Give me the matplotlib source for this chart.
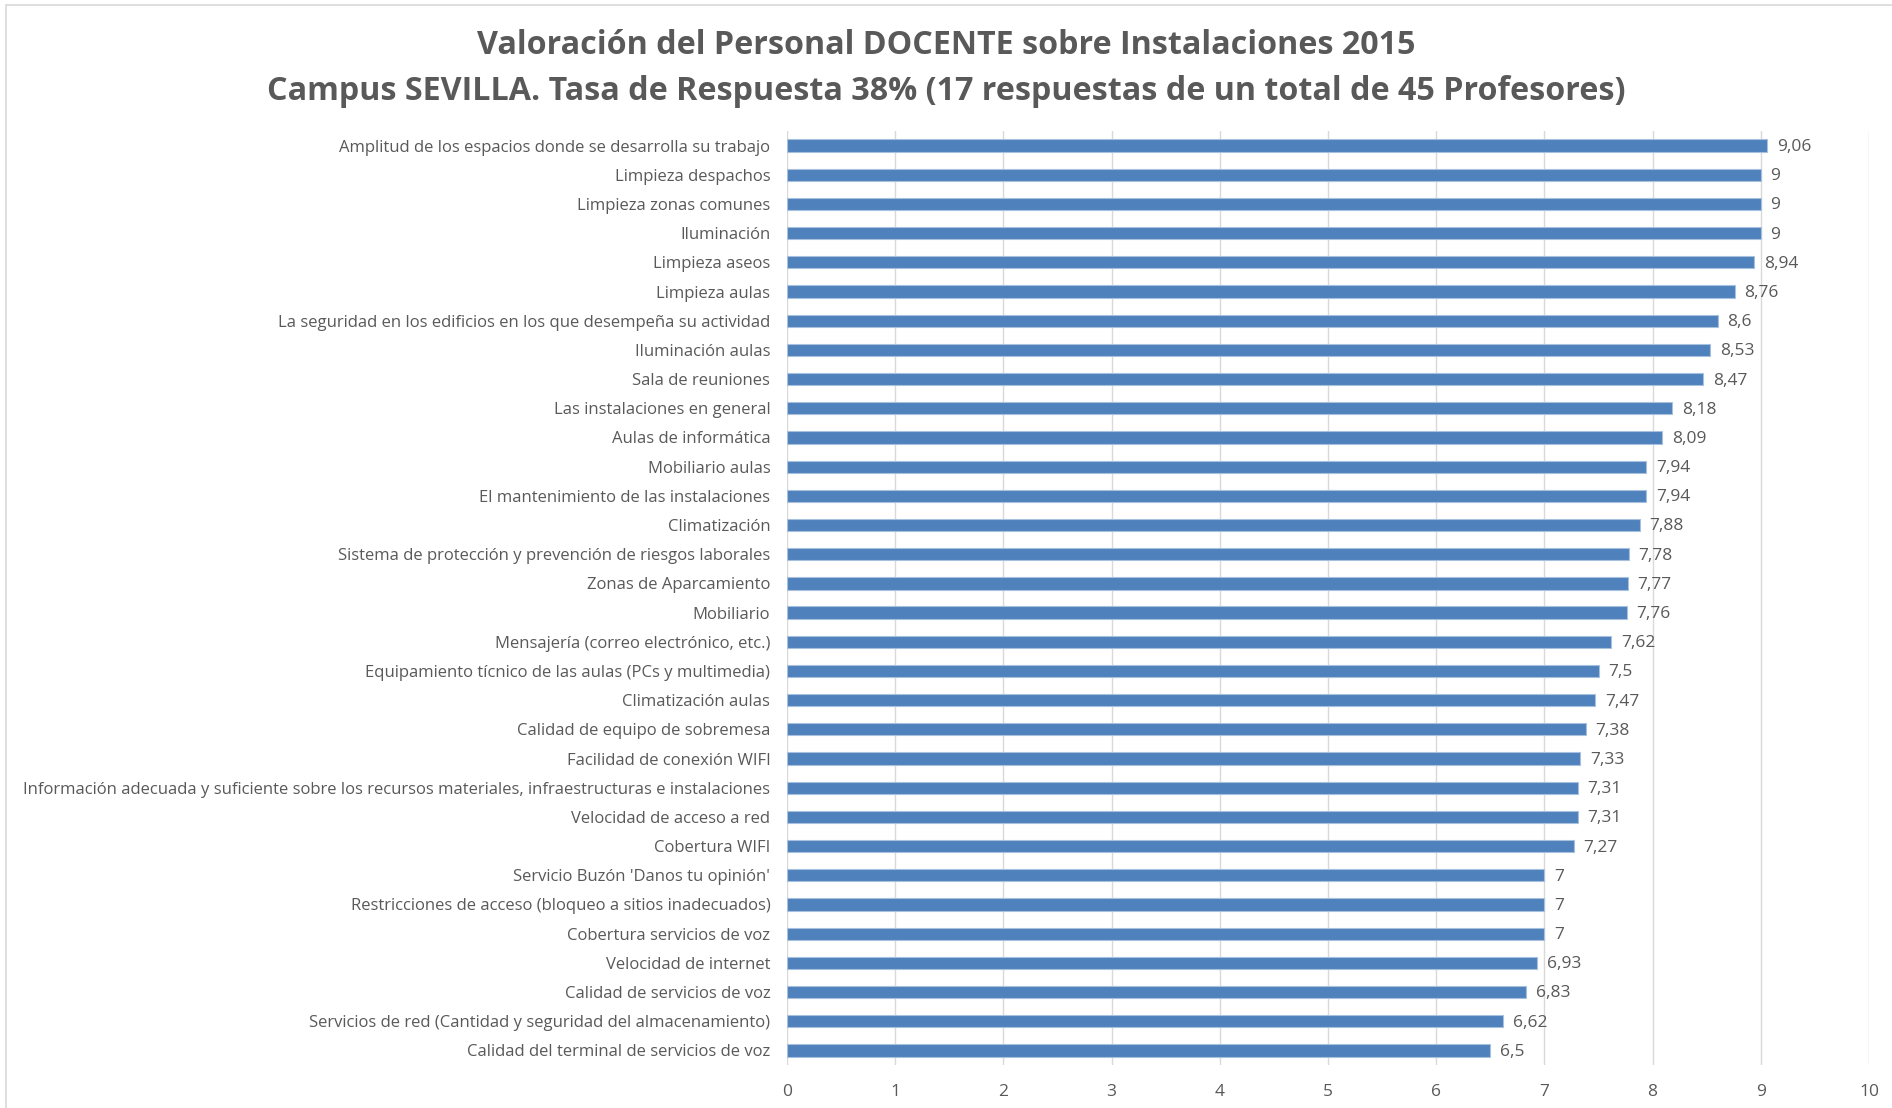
import numpy as np
import matplotlib
matplotlib.use("Agg")
from matplotlib import pyplot as plt
from matplotlib.patches import Rectangle

plt.rcParams['font.family'] = ['Open Sans', 'DejaVu Sans']

# categories (top to bottom) and their scores
labels = [
    "Amplitud de los espacios donde se desarrolla su trabajo",
    "Limpieza despachos",
    "Limpieza zonas comunes",
    "Iluminación",
    "Limpieza aseos",
    "Limpieza aulas",
    "La seguridad en los edificios en los que desempeña su actividad",
    "Iluminación aulas",
    "Sala de reuniones",
    "Las instalaciones en general",
    "Aulas de informática",
    "Mobiliario aulas",
    "El mantenimiento de las instalaciones",
    "Climatización",
    "Sistema de protección y prevención de riesgos laborales",
    "Zonas de Aparcamiento",
    "Mobiliario",
    "Mensajería (correo electrónico, etc.)",
    "Equipamiento tícnico de las aulas (PCs y multimedia)",
    "Climatización aulas",
    "Calidad de equipo de sobremesa",
    "Facilidad de conexión WIFI",
    "Información adecuada y suficiente sobre los recursos materiales, infraestructuras e instalaciones",
    "Velocidad de acceso a red",
    "Cobertura WIFI",
    "Servicio Buzón 'Danos tu opinión'",
    "Restricciones de acceso (bloqueo a sitios inadecuados)",
    "Cobertura servicios de voz",
    "Velocidad de internet",
    "Calidad de servicios de voz",
    "Servicios de red (Cantidad y seguridad del almacenamiento)",
    "Calidad del terminal de servicios de voz",
]
values = [9.06, 9, 9, 9, 8.94, 8.76, 8.6, 8.53, 8.47, 8.18, 8.09, 7.94, 7.94,
          7.88, 7.78, 7.77, 7.76, 7.62, 7.5, 7.47, 7.38, 7.33, 7.31, 7.31,
          7.27, 7, 7, 7, 6.93, 6.83, 6.62, 6.5]
x_ticks = list(range(0, 11))

W, H = 1892, 1108
fig = plt.figure(figsize=(W / 100, H / 100), dpi=100)
ax = fig.add_axes([787 / W, 1 - 1065 / H, (1869 - 787) / W, (1065 - 131) / H])

grey = '#595959'
y = np.arange(len(labels))
ax.barh(y, values, height=0.42, color='#4F81BD', edgecolor='#A7C0DE',
        linewidth=0.8, zorder=3)
for yi, v in zip(y, values):
    txt = f"{v:g}".replace('.', ',')
    ax.text(v + 0.09, yi + 0.05, txt, va='center', ha='left', fontsize=12.5,
            color=grey, zorder=4)

ax.set_ylim(len(labels) - 0.5, -0.5)
ax.set_xlim(0, 10)
ax.set_yticks(y)
ax.set_yticklabels(labels, fontsize=12.0, color=grey)
ax.set_xticks(x_ticks)
ax.set_xticklabels([str(t) for t in x_ticks], fontsize=12.5, color=grey)
ax.tick_params(axis='both', length=0)
ax.tick_params(axis='y', pad=12)
ax.tick_params(axis='x', pad=14)
ax.grid(axis='x', color='#D9D9D9', linewidth=1, zorder=0)
for s in ax.spines.values():
    s.set_visible(False)

fig.text(0.5, 1 - 45 / H,
         "Valoración del Personal DOCENTE sobre Instalaciones 2015",
         ha='center', va='center', fontsize=23.2, fontweight='bold', color=grey)
fig.text(0.5, 1 - 91 / H,
         "Campus SEVILLA. Tasa de Respuesta 38% (17 respuestas de un total de 45 Profesores)",
         ha='center', va='center', fontsize=23.2, fontweight='bold', color=grey)

# light chart-area border
fig.patches.append(Rectangle((6 / W, -0.1), 1.1, 1 - 5 / H + 0.1,
                             transform=fig.transFigure, fill=False,
                             edgecolor='#D9D9D9', linewidth=1.2))

fig.savefig('out.png', dpi=100)
